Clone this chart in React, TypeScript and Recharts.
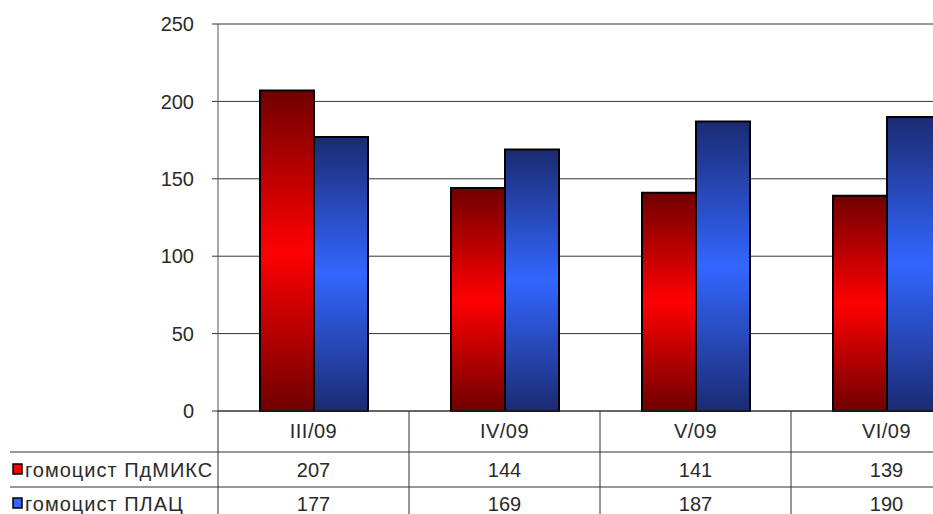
import { Bar, BarChart, CartesianGrid, XAxis, YAxis } from "recharts";

// monthly values for the two series
const months = ["III/09", "IV/09", "V/09", "VI/09"];
const pdmiks = [207, 144, 141, 139];
const plac = [177, 169, 187, 190];
const yTicks = [0, 50, 100, 150, 200, 250];

const seriesNames = ["гомоцист ПдМИКС", "гомоцист ПЛАЦ"];
const seriesColors = ["#ff0000", "#3366ff"];

const data = months.map((m, i) => ({ name: m, pdmiks: pdmiks[i], plac: plac[i] }));

const FONT = "Arial, 'Liberation Sans', sans-serif";
const TEXT = "#2a2a2a";
const LINE = "#333";

// x-axis tick that also draws the data table rows underneath the plot
const TableTick = (props: any) => {
  const { x, y, payload, index } = props;
  const half = payload?.offset || 95.5;
  const left = x - half;
  const right = x + half;
  const rows = [pdmiks[index], plac[index]];
  return (
    <g fontFamily={FONT} fontSize={20} fill={TEXT}>
      <line x1={right} y1={y} x2={right} y2={y + 130} stroke={LINE} />
      {index === 0 && <line x1={left} y1={y} x2={left} y2={y + 130} stroke={LINE} />}
      <line x1={index === 0 ? 10 : left} y1={y + 41} x2={right} y2={y + 41} stroke={LINE} />
      <line x1={index === 0 ? 10 : left} y1={y + 76} x2={right} y2={y + 76} stroke={LINE} />
      <text x={x} y={y + 20} textAnchor="middle" dominantBaseline="central" letterSpacing={0.5}>
        {payload.value}
      </text>
      {rows.map((v, r) => (
        <text key={r} x={x} y={y + 59 + r * 34} textAnchor="middle" dominantBaseline="central">
          {v}
        </text>
      ))}
      {index === 0 &&
        seriesNames.map((s, r) => (
          <g key={s}>
            <rect x={13} y={y + 53 + r * 34} width={9} height={10} fill={seriesColors[r]} stroke="#000" strokeWidth={1.5} />
            <text x={25} y={y + 59 + r * 34} dominantBaseline="central" letterSpacing={1}>
              {s}
            </text>
          </g>
        ))}
    </g>
  );
};

export default function App() {
  return (
    <div style={{ position: "absolute", left: 0, top: 0, width: 933, height: 514, overflow: "hidden", background: "#fff" }}>
      <BarChart
        width={1000}
        height={530}
        data={data}
        margin={{ top: 24, right: 18, left: 0, bottom: 0 }}
        barGap={0}
      >
        <defs>
          <linearGradient id="redFill" x1="0" y1="0" x2="0" y2="1">
            <stop offset="0" stopColor="#700000" />
            <stop offset="0.5" stopColor="#ff0000" />
            <stop offset="1" stopColor="#700000" />
          </linearGradient>
          <linearGradient id="blueFill" x1="0" y1="0" x2="0" y2="1">
            <stop offset="0" stopColor="#1b2b72" />
            <stop offset="0.5" stopColor="#3366ff" />
            <stop offset="1" stopColor="#1b2b72" />
          </linearGradient>
        </defs>
        <CartesianGrid vertical={false} stroke={LINE} strokeWidth={1} />
        <XAxis
          dataKey="name"
          height={119}
          tickSize={0}
          tickMargin={0}
          tickLine={false}
          interval={0}
          axisLine={{ stroke: LINE }}
          tick={<TableTick />}
        />
        <YAxis
          width={218}
          domain={[0, 250]}
          ticks={yTicks}
          tickSize={6}
          tickMargin={18}
          axisLine={{ stroke: "#555" }}
          tickLine={{ stroke: LINE }}
          tick={{ fill: TEXT, fontSize: 20, fontFamily: FONT }}
        />
        <Bar dataKey="pdmiks" barSize={54} fill="url(#redFill)" stroke="#000" strokeWidth={2} isAnimationActive={false} />
        <Bar dataKey="plac" barSize={54} fill="url(#blueFill)" stroke="#000" strokeWidth={2} isAnimationActive={false} />
      </BarChart>
    </div>
  );
}
